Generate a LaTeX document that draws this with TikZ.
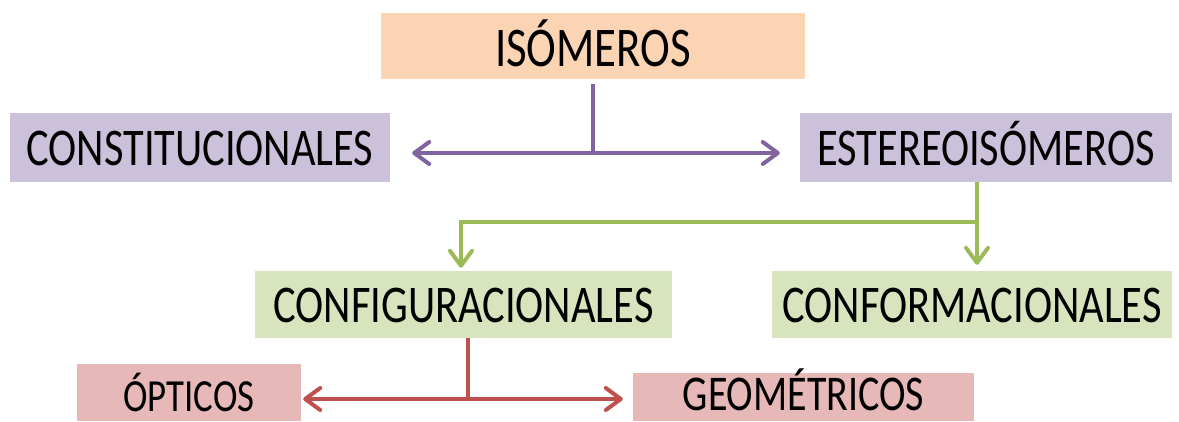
\documentclass[tikz,border=0pt]{standalone}
\usepackage{fontspec}
\setmainfont[FakeStretch=0.8]{Carlito}
\usetikzlibrary{arrows.meta}
\definecolor{isofill}{HTML}{FBD4B4}
\definecolor{lilafill}{HTML}{CCC1DA}
\definecolor{verdefill}{HTML}{D7E4BD}
\definecolor{rosafill}{HTML}{E6B9B8}
\definecolor{lilaline}{HTML}{8064A2}
\definecolor{verdeline}{HTML}{9BBB59}
\definecolor{rojoline}{HTML}{C0504D}
\tikzset{
  caja/.style={inner sep=0pt, text height=35.5pt, text depth=0pt, font=\fontsize{53}{60}\selectfont},
  cajita/.style={caja, text height=37pt, font=\fontsize{46}{50}\selectfont},
  flecha/.style={line width=4pt, >={Straight Barb[length=15pt,width=22pt,round]}},
}
\begin{document}
\begin{tikzpicture}[x=1pt,y=-1pt]
    \useasboundingbox (0,0) rectangle (1179,421);
    \node[caja, text height=40pt, font=\fontsize{56}{60}\selectfont, fill=isofill, minimum width=424pt, minimum height=66pt] (iso) at (593,46) {ISÓMEROS};
    \node[caja, fill=lilafill, minimum width=380pt, minimum height=69pt] (cons) at (200,147.5) {CONSTITUCIONALES};
    \node[caja, fill=lilafill, minimum width=372pt, minimum height=69pt] (este) at (986,147.5) {ESTEREOISÓMEROS};
    \node[caja, fill=verdefill, minimum width=417pt, minimum height=67pt] (config) at (463.5,304.5) {CONFIGURACIONALES};
    \node[caja, fill=verdefill, minimum width=400pt, minimum height=67pt] (conform) at (972,304.5) {CONFORMACIONALES};
    \node[cajita, fill=rosafill, minimum width=224pt, minimum height=57pt] (opt) at (189,392.5) {ÓPTICOS};
    \node[cajita, text height=26pt, font=\fontsize{50}{56}\selectfont, fill=rosafill, minimum width=341pt, minimum height=48pt] (geo) at (803.5,397) {GEOMÉTRICOS};
    \coordinate (pj) at (593,153);
    \coordinate (vj) at (977,222);
    \coordinate (rj) at (468,399);
    \draw[flecha, lilaline] ([yshift=-5pt]iso.south) -- (pj);
    \draw[flecha, lilaline, <->, shorten <=22pt, shorten >=20pt] (pj -| cons.east) -- (pj -| este.west);
    \draw[flecha, verdeline] (vj |- este.south) -- (vj);
    \draw[flecha, verdeline, ->, shorten >=3pt] (vj) -| ([xshift=-2.5pt]config.north);
    \draw[flecha, verdeline, ->, shorten >=6pt] (vj) -- (vj |- conform.north);
    \draw[flecha, rojoline] (rj |- config.south) -- (rj);
    \draw[flecha, rojoline, <->, shorten <=2pt, shorten >=10pt] (rj -| opt.east) -- (rj -| geo.west);
\end{tikzpicture}
\end{document}
